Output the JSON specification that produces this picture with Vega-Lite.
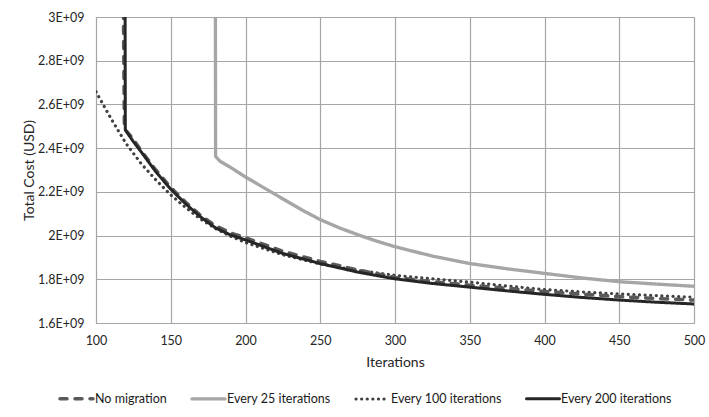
{
  "$schema": "https://vega.github.io/schema/vega-lite/v6.json",
  "autosize": "none",
  "width": 598,
  "height": 306,
  "padding": {"left": 96, "top": 17, "right": 15, "bottom": 94},
  "background": "white",
  "config": {
    "font": "Lato",
    "view": {"stroke": "#a6a6a6", "strokeWidth": 1},
    "axis": {
      "labelFont": "Lato", "labelFontSize": 12.5, "labelColor": "#262626",
      "titleFont": "Lato", "titleFontSize": 14, "titleFontWeight": "normal", "titleColor": "#262626",
      "gridColor": "#a6a6a6", "gridWidth": 1.2, "gridOpacity": 1,
      "domainColor": "#a6a6a6", "ticks": false, "tickSize": 0
    }
  },
  "data": {"values": [
    {"s": "Every 100 iterations", "x": 100, "y": 2.658e9},
    {"s": "Every 100 iterations", "x": 110, "y": 2.536e9},
    {"s": "Every 100 iterations", "x": 120, "y": 2.422e9},
    {"s": "Every 100 iterations", "x": 130, "y": 2.331e9},
    {"s": "Every 100 iterations", "x": 140, "y": 2.255e9},
    {"s": "Every 100 iterations", "x": 150, "y": 2.186e9},
    {"s": "Every 100 iterations", "x": 160, "y": 2.128e9},
    {"s": "Every 100 iterations", "x": 170, "y": 2.075e9},
    {"s": "Every 100 iterations", "x": 180, "y": 2.032e9},
    {"s": "Every 100 iterations", "x": 190, "y": 1.997e9},
    {"s": "Every 100 iterations", "x": 200, "y": 1.968e9},
    {"s": "Every 100 iterations", "x": 225, "y": 1.912e9},
    {"s": "Every 100 iterations", "x": 250, "y": 1.870e9},
    {"s": "Every 100 iterations", "x": 275, "y": 1.841e9},
    {"s": "Every 100 iterations", "x": 300, "y": 1.818e9},
    {"s": "Every 100 iterations", "x": 325, "y": 1.802e9},
    {"s": "Every 100 iterations", "x": 350, "y": 1.787e9},
    {"s": "Every 100 iterations", "x": 375, "y": 1.769e9},
    {"s": "Every 100 iterations", "x": 400, "y": 1.753e9},
    {"s": "Every 100 iterations", "x": 425, "y": 1.742e9},
    {"s": "Every 100 iterations", "x": 450, "y": 1.733e9},
    {"s": "Every 100 iterations", "x": 475, "y": 1.725e9},
    {"s": "Every 100 iterations", "x": 500, "y": 1.718e9},

    {"s": "No migration", "x": 118, "y": 3.3e9},
    {"s": "No migration", "x": 119, "y": 2.49e9},
    {"s": "No migration", "x": 125, "y": 2.44e9},
    {"s": "No migration", "x": 130, "y": 2.39e9},
    {"s": "No migration", "x": 140, "y": 2.30e9},
    {"s": "No migration", "x": 150, "y": 2.22e9},
    {"s": "No migration", "x": 160, "y": 2.152e9},
    {"s": "No migration", "x": 170, "y": 2.092e9},
    {"s": "No migration", "x": 180, "y": 2.045e9},
    {"s": "No migration", "x": 190, "y": 2.012e9},
    {"s": "No migration", "x": 200, "y": 1.99e9},
    {"s": "No migration", "x": 225, "y": 1.928e9},
    {"s": "No migration", "x": 250, "y": 1.882e9},
    {"s": "No migration", "x": 275, "y": 1.843e9},
    {"s": "No migration", "x": 300, "y": 1.808e9},
    {"s": "No migration", "x": 325, "y": 1.789e9},
    {"s": "No migration", "x": 350, "y": 1.773e9},
    {"s": "No migration", "x": 375, "y": 1.759e9},
    {"s": "No migration", "x": 400, "y": 1.744e9},
    {"s": "No migration", "x": 425, "y": 1.732e9},
    {"s": "No migration", "x": 450, "y": 1.721e9},
    {"s": "No migration", "x": 475, "y": 1.712e9},
    {"s": "No migration", "x": 500, "y": 1.705e9},

    {"s": "Every 25 iterations", "x": 179.8, "y": 3.3e9},
    {"s": "Every 25 iterations", "x": 180, "y": 2.362e9},
    {"s": "Every 25 iterations", "x": 183, "y": 2.34e9},
    {"s": "Every 25 iterations", "x": 190, "y": 2.312e9},
    {"s": "Every 25 iterations", "x": 200, "y": 2.268e9},
    {"s": "Every 25 iterations", "x": 212.5, "y": 2.218e9},
    {"s": "Every 25 iterations", "x": 225, "y": 2.168e9},
    {"s": "Every 25 iterations", "x": 237.5, "y": 2.118e9},
    {"s": "Every 25 iterations", "x": 250, "y": 2.073e9},
    {"s": "Every 25 iterations", "x": 262.5, "y": 2.036e9},
    {"s": "Every 25 iterations", "x": 275, "y": 2.004e9},
    {"s": "Every 25 iterations", "x": 287.5, "y": 1.975e9},
    {"s": "Every 25 iterations", "x": 300, "y": 1.949e9},
    {"s": "Every 25 iterations", "x": 325, "y": 1.906e9},
    {"s": "Every 25 iterations", "x": 350, "y": 1.872e9},
    {"s": "Every 25 iterations", "x": 375, "y": 1.848e9},
    {"s": "Every 25 iterations", "x": 400, "y": 1.827e9},
    {"s": "Every 25 iterations", "x": 425, "y": 1.806e9},
    {"s": "Every 25 iterations", "x": 450, "y": 1.789e9},
    {"s": "Every 25 iterations", "x": 475, "y": 1.778e9},
    {"s": "Every 25 iterations", "x": 500, "y": 1.768e9},

    {"s": "Every 200 iterations", "x": 119.4, "y": 3.3e9},
    {"s": "Every 200 iterations", "x": 119.6, "y": 2.483e9},
    {"s": "Every 200 iterations", "x": 125, "y": 2.43e9},
    {"s": "Every 200 iterations", "x": 130, "y": 2.385e9},
    {"s": "Every 200 iterations", "x": 140, "y": 2.292e9},
    {"s": "Every 200 iterations", "x": 150, "y": 2.212e9},
    {"s": "Every 200 iterations", "x": 160, "y": 2.145e9},
    {"s": "Every 200 iterations", "x": 170, "y": 2.085e9},
    {"s": "Every 200 iterations", "x": 180, "y": 2.035e9},
    {"s": "Every 200 iterations", "x": 190, "y": 2.003e9},
    {"s": "Every 200 iterations", "x": 200, "y": 1.98e9},
    {"s": "Every 200 iterations", "x": 225, "y": 1.918e9},
    {"s": "Every 200 iterations", "x": 250, "y": 1.872e9},
    {"s": "Every 200 iterations", "x": 275, "y": 1.833e9},
    {"s": "Every 200 iterations", "x": 300, "y": 1.802e9},
    {"s": "Every 200 iterations", "x": 325, "y": 1.781e9},
    {"s": "Every 200 iterations", "x": 350, "y": 1.764e9},
    {"s": "Every 200 iterations", "x": 375, "y": 1.747e9},
    {"s": "Every 200 iterations", "x": 400, "y": 1.731e9},
    {"s": "Every 200 iterations", "x": 425, "y": 1.717e9},
    {"s": "Every 200 iterations", "x": 450, "y": 1.705e9},
    {"s": "Every 200 iterations", "x": 475, "y": 1.695e9},
    {"s": "Every 200 iterations", "x": 500, "y": 1.687e9}
  ]},
  "mark": {"type": "line", "clip": true, "strokeCap": "round", "strokeJoin": "round"},
  "encoding": {
    "x": {
      "field": "x", "type": "quantitative",
      "scale": {"domain": [100, 500], "nice": false, "zero": false},
      "axis": {"title": "Iterations", "values": [100, 150, 200, 250, 300, 350, 400, 450, 500], "labelPadding": 11, "titlePadding": 9, "labelFlush": false}
    },
    "y": {
      "field": "y", "type": "quantitative",
      "scale": {"domain": [1.6e9, 3e9], "nice": false, "zero": false},
      "axis": {
        "title": "Total Cost (USD)",
        "values": [1.6e9, 1.8e9, 2e9, 2.2e9, 2.4e9, 2.6e9, 2.8e9, 3e9],
        "labelExpr": "(datum.value / 1e9) + 'E+09'",
        "labelPadding": 12, "titleX": -60, "titleY": 153, "labelFlush": false
      }
    },
    "color": {
      "field": "s", "type": "nominal",
      "scale": {
        "domain": ["No migration", "Every 25 iterations", "Every 100 iterations", "Every 200 iterations"],
        "range": ["#5a5a5a", "#a6a6a6", "#404040", "#262626"]
      },
      "legend": {
        "title": null, "orient": "none", "direction": "horizontal",
        "legendX": -38, "legendY": 363,
        "symbolType": "stroke", "symbolSize": 1089,
        "labelFont": "Lato", "labelFontSize": 12.5, "labelColor": "#1a1a1a",
        "labelOffset": 0, "columnPadding": 18,
        "encode": {"symbols": {"update": {"strokeCap": {"value": "round"}}}}
      }
    },
    "strokeDash": {
      "field": "s", "type": "nominal",
      "scale": {
        "domain": ["No migration", "Every 25 iterations", "Every 100 iterations", "Every 200 iterations"],
        "range": [[7, 8], [1, 0], [0.1, 5.5], [1, 0]]
      },
      "legend": null
    },
    "strokeWidth": {
      "field": "s", "type": "nominal",
      "scale": {
        "domain": ["No migration", "Every 25 iterations", "Every 100 iterations", "Every 200 iterations"],
        "range": [3.5, 3, 2.8, 3]
      },
      "legend": null
    }
  }
}
